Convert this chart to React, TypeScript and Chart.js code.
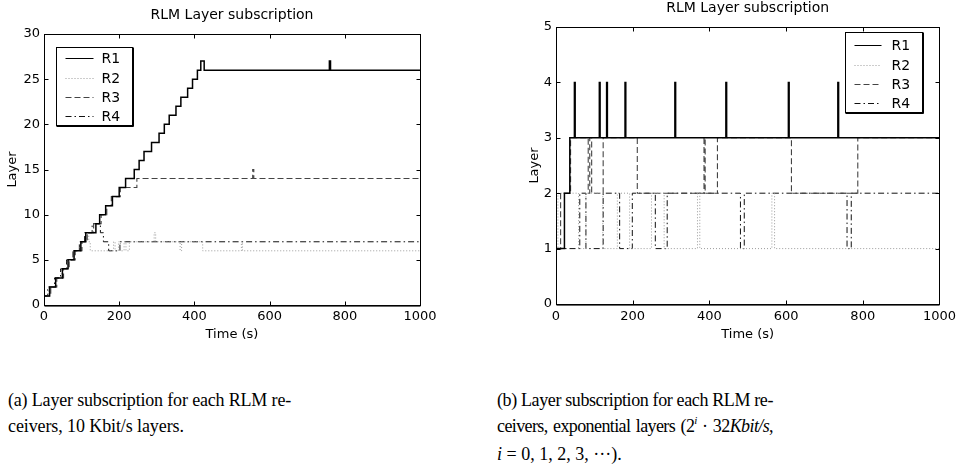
import React, { useEffect, useRef } from "react";
import { Chart, registerables } from "chart.js";

Chart.register(...registerables);

const SANS = "'DejaVu Sans', 'Liberation Sans', Arial, sans-serif";
const SERIF = "'Liberation Serif', 'Times New Roman', serif";

// ---------- shared ----------
const chartTitle = "RLM Layer subscription";
const xTitle = "Time (s)";
const yTitle = "Layer";
const seriesNames = ["R1", "R2", "R3", "R4"];
const xTickValues = [0, 200, 400, 600, 800, 1000];

// ---------- panel (a): 10 Kbit/s layers ----------
const aYTicks = [0, 5, 10, 15, 20, 25, 30];
const aR1Time = [0, 15, 31, 49, 64, 80, 98, 111, 138, 148, 164, 182, 200, 217, 240, 253, 266, 286, 306, 320, 333, 351, 364, 382, 395, 408, 417, 426, 759, 762, 1000];
const aR1Layer = [1, 2, 3, 4, 5, 6, 7, 8, 9, 10, 11, 12, 13, 14, 15, 16, 17, 18, 19, 20, 21, 22, 23, 24, 25, 26, 27, 26, 27, 26, 26];
const aR2Time = [0, 12, 30, 46, 62, 78, 96, 112, 119, 123, 185, 189, 198, 203, 213, 218, 227, 293, 297, 362, 366, 422, 525, 528, 1000];
const aR2Layer = [1, 2, 3, 4, 5, 6, 7, 8, 7, 6, 7, 6, 7, 6, 7, 6, 7, 8, 7, 6, 7, 6, 7, 6, 6];
const aR3Time = [0, 18, 34, 52, 67, 83, 101, 115, 132, 152, 167, 179, 203, 247, 555, 558, 1000];
const aR3Layer = [1, 2, 3, 4, 5, 6, 7, 8, 9, 10, 11, 12, 13, 14, 15, 14, 14];
const aR4Time = [0, 10, 28, 44, 60, 77, 94, 108, 128, 150, 158, 172, 202, 1000];
const aR4Layer = [1, 2, 3, 4, 5, 6, 7, 8, 9, 8, 7, 6, 7, 7];

// ---------- panel (b): exponential layers ----------
const bYTicks = [0, 1, 2, 3, 4, 5];
const bR1Time = [0, 22, 36, 48, 50, 113, 115, 132, 134, 180, 182, 310, 312, 443, 445, 606, 608, 735, 737, 1000];
const bR1Layer = [1, 2, 3, 4, 3, 4, 3, 4, 3, 4, 3, 4, 3, 4, 3, 4, 3, 4, 3, 3];
const bR2Time = [0, 5, 59, 78, 122, 160, 192, 249, 282, 369, 375, 563, 570, 1000];
const bR2Layer = [1, 2, 1, 2, 1, 2, 1, 2, 1, 2, 1, 2, 1, 1];
const bR3Time = [0, 12, 38, 84, 88, 93, 123, 212, 386, 389, 421, 614, 787, 1000];
const bR3Layer = [1, 2, 3, 2, 3, 2, 3, 2, 3, 2, 3, 2, 3, 3];
const bR4Time = [0, 62, 78, 123, 166, 199, 259, 290, 481, 491, 759, 770, 1000];
const bR4Layer = [1, 2, 1, 2, 1, 2, 1, 2, 1, 2, 1, 2, 2];

const lineStyles = [
  { color: "#000000", dash: [] as number[], width: 1.5 },
  { color: "#9a9a9a", dash: [1, 2], width: 1 },
  { color: "#444444", dash: [6, 3], width: 1.1 },
  { color: "#111111", dash: [6, 3, 1.5, 3], width: 1 },
];

type PanelSpec = {
  times: number[][];
  layers: number[][];
  yTicks: number[];
  yMax: number;
  width: number;
  height: number;
  padLeft: number;
  padRight: number;
  padBottom: number;
  yScaleWidth: number;
  xScaleHeight: number;
  titlePadTop: number;
  titlePadBottom: number;
  yTitlePadTop: number;
  xTickPad: number;
  legend: { fromRight: boolean; dx: number; dy: number; w: number; h: number; rows: number[]; l0: number; l1: number; tx: number };
};

function makeFramePlugin(spec: PanelSpec) {
  return {
    id: "matlabFrame",
    afterDraw(chart: any) {
      const ctx = chart.ctx as CanvasRenderingContext2D;
      const a = chart.chartArea;
      const xs = chart.scales.x;
      const ys = chart.scales.y;
      ctx.save();
      ctx.setLineDash([]);
      ctx.strokeStyle = "#000";
      ctx.lineWidth = 1;
      const L = Math.round(a.left) + 0.5;
      const R = Math.round(a.right) + 0.5;
      const T = Math.round(a.top) + 0.5;
      const B = Math.round(a.bottom) + 0.5;
      ctx.strokeRect(L, T, R - L, B - T);
      ctx.beginPath();
      ctx.moveTo(L, B + 0.6);
      ctx.lineTo(R, B + 0.6);
      ctx.stroke();
      const tl = 4;
      ctx.beginPath();
      for (const t of xs.ticks) {
        const px = Math.round(xs.getPixelForValue(t.value)) + 0.5;
        ctx.moveTo(px, T);
        ctx.lineTo(px, T + tl);
        ctx.moveTo(px, B);
        ctx.lineTo(px, B - tl);
      }
      for (const t of ys.ticks) {
        const py = Math.round(ys.getPixelForValue(t.value)) + 0.5;
        ctx.moveTo(L, py);
        ctx.lineTo(L + tl, py);
        ctx.moveTo(R, py);
        ctx.lineTo(R - tl, py);
      }
      ctx.stroke();

      // legend
      const lg = spec.legend;
      const bx = Math.round(lg.fromRight ? a.right - lg.dx - lg.w : a.left + lg.dx) + 0.5;
      const by = Math.round(a.top + lg.dy) + 0.5;
      ctx.fillStyle = "#fff";
      ctx.fillRect(bx, by, lg.w, lg.h);
      ctx.strokeStyle = "#000";
      ctx.lineWidth = 1;
      ctx.strokeRect(bx, by, lg.w, lg.h);
      ctx.beginPath();
      ctx.moveTo(bx + lg.w + 1, by);
      ctx.lineTo(bx + lg.w + 1, by + lg.h + 1);
      ctx.lineTo(bx, by + lg.h + 1);
      ctx.stroke();
      ctx.font = `14px ${SANS}`;
      ctx.textBaseline = "middle";
      ctx.textAlign = "left";
      seriesNames.forEach((name, i) => {
        const st = lineStyles[i];
        const y = Math.round(by + lg.rows[i]) + 0.5;
        ctx.beginPath();
        ctx.setLineDash(st.dash);
        ctx.strokeStyle = st.color;
        ctx.lineWidth = 1;
        ctx.moveTo(bx + lg.l0, y);
        ctx.lineTo(bx + lg.l1, y);
        ctx.stroke();
        ctx.setLineDash([]);
        ctx.fillStyle = "#000";
        ctx.fillText(name, bx + lg.tx, y + 1);
      });
      ctx.restore();
    },
  };
}

function buildConfig(spec: PanelSpec): any {
  const datasets = seriesNames.map((name, i) => ({
    label: name,
    data: spec.times[i].map((t, k) => ({ x: t, y: spec.layers[i][k] })),
    borderColor: lineStyles[i].color,
    borderDash: lineStyles[i].dash,
    borderWidth: lineStyles[i].width,
    backgroundColor: "transparent",
    pointRadius: 0,
    pointHoverRadius: 0,
    stepped: true,
    fill: false,
    tension: 0,
  }));
  const tickFont = { family: SANS, size: 13 };
  return {
    type: "line",
    data: { datasets },
    plugins: [makeFramePlugin(spec)],
    options: {
      animation: false,
      responsive: false,
      devicePixelRatio: 1,
      events: [],
      layout: { padding: { left: spec.padLeft, right: spec.padRight, top: 0, bottom: spec.padBottom } },
      plugins: {
        legend: { display: false },
        tooltip: { enabled: false },
        title: {
          display: true,
          text: chartTitle,
          fullSize: false,
          color: "#000",
          font: { family: SANS, size: 14, weight: "normal" },
          padding: { top: spec.titlePadTop, bottom: spec.titlePadBottom },
        },
      },
      scales: {
        x: {
          type: "linear",
          min: 0,
          max: 1000,
          grid: { display: false, drawTicks: false },
          border: { display: false },
          afterBuildTicks: (s: any) => {
            s.ticks = xTickValues.map((v) => ({ value: v }));
          },
          afterFit: (s: any) => {
            s.height = spec.xScaleHeight;
          },
          ticks: { color: "#000", font: tickFont, padding: spec.xTickPad, maxRotation: 0, autoSkip: false, callback: (v: any) => String(v) },
          title: { display: true, text: xTitle, color: "#000", font: tickFont, padding: { top: 0, bottom: 0 } },
        },
        y: {
          type: "linear",
          min: 0,
          max: spec.yMax,
          grid: { display: false, drawTicks: false },
          border: { display: false },
          afterBuildTicks: (s: any) => {
            s.ticks = spec.yTicks.map((v) => ({ value: v }));
          },
          afterFit: (s: any) => {
            s.width = spec.yScaleWidth;
          },
          ticks: { color: "#000", font: tickFont, padding: 4, autoSkip: false, callback: (v: any) => String(v) },
          title: { display: true, text: yTitle, color: "#000", font: tickFont, padding: { top: spec.yTitlePadTop, bottom: 0 } },
        },
      },
    },
  };
}

const specA: PanelSpec = {
  times: [aR1Time, aR2Time, aR3Time, aR4Time],
  layers: [aR1Layer, aR2Layer, aR3Layer, aR4Layer],
  yTicks: aYTicks,
  yMax: 30,
  width: 480,
  height: 350,
  padLeft: 0,
  padRight: 60,
  padBottom: 8,
  yScaleWidth: 44,
  xScaleHeight: 37,
  titlePadTop: 7,
  titlePadBottom: 10.2,
  yTitlePadTop: 5,
  xTickPad: 4,
  legend: { fromRight: false, dx: 12, dy: 13, w: 76, h: 78, rows: [10, 30, 49, 68], l0: 9, l1: 37, tx: 45 },
};

const specB: PanelSpec = {
  times: [bR1Time, bR2Time, bR3Time, bR4Time],
  layers: [bR1Layer, bR2Layer, bR3Layer, bR4Layer],
  yTicks: bYTicks,
  yMax: 5,
  width: 481,
  height: 350,
  padLeft: 0,
  padRight: 21,
  padBottom: 8,
  yScaleWidth: 76,
  xScaleHeight: 38,
  titlePadTop: 0,
  titlePadBottom: 10.2,
  yTitlePadTop: 47,
  xTickPad: 5,
  legend: { fromRight: true, dx: 17, dy: 5, w: 77, h: 80, rows: [12, 32, 51, 70], l0: 9, l1: 36, tx: 46 },
};

function Panel({ spec, left }: { spec: PanelSpec; left: number }) {
  const ref = useRef<HTMLCanvasElement | null>(null);
  useEffect(() => {
    if (!ref.current) return;
    const chart = new Chart(ref.current, buildConfig(spec));
    return () => chart.destroy();
  }, [spec]);
  return (
    <canvas
      ref={ref}
      width={spec.width}
      height={spec.height}
      style={{ position: "absolute", left, top: 0, width: spec.width, height: spec.height }}
    />
  );
}

const capStyle: React.CSSProperties = {
  position: "absolute",
  fontFamily: SERIF,
  fontSize: 18,
  lineHeight: "26px",
  color: "#000",
  whiteSpace: "nowrap",
};

const justify: React.CSSProperties = { textAlign: "justify", textAlignLast: "justify" };

export default function App() {
  return (
    <div style={{ position: "absolute", left: 0, top: 0, width: 961, height: 472, background: "#fff", overflow: "hidden" }}>
      <Panel spec={specA} left={0} />
      <Panel spec={specB} left={480} />
      <div style={{ ...capStyle, left: 8, top: 387 }}>
        <div style={{ ...justify, width: 283, letterSpacing: -0.2 }}>(a) Layer subscription for each RLM re-</div>
        <div style={{ letterSpacing: -0.1 }}>ceivers, 10 Kbit/s layers.</div>
      </div>
      <div style={{ ...capStyle, left: 497, top: 387 }}>
        <div style={{ ...justify, width: 276, letterSpacing: -0.4 }}>(b) Layer subscription for each RLM re-</div>
        <div style={{ ...justify, width: 276, letterSpacing: -0.6, wordSpacing: -1 }}>
          ceivers, exponential layers (2<span style={{ fontSize: 11, fontStyle: "italic", position: "relative", top: -8 }}>i</span> · 32<i>Kbit/s</i>,
        </div>
        <div>
          <i>i</i> = 0, 1, 2, 3, ···).
        </div>
      </div>
    </div>
  );
}
